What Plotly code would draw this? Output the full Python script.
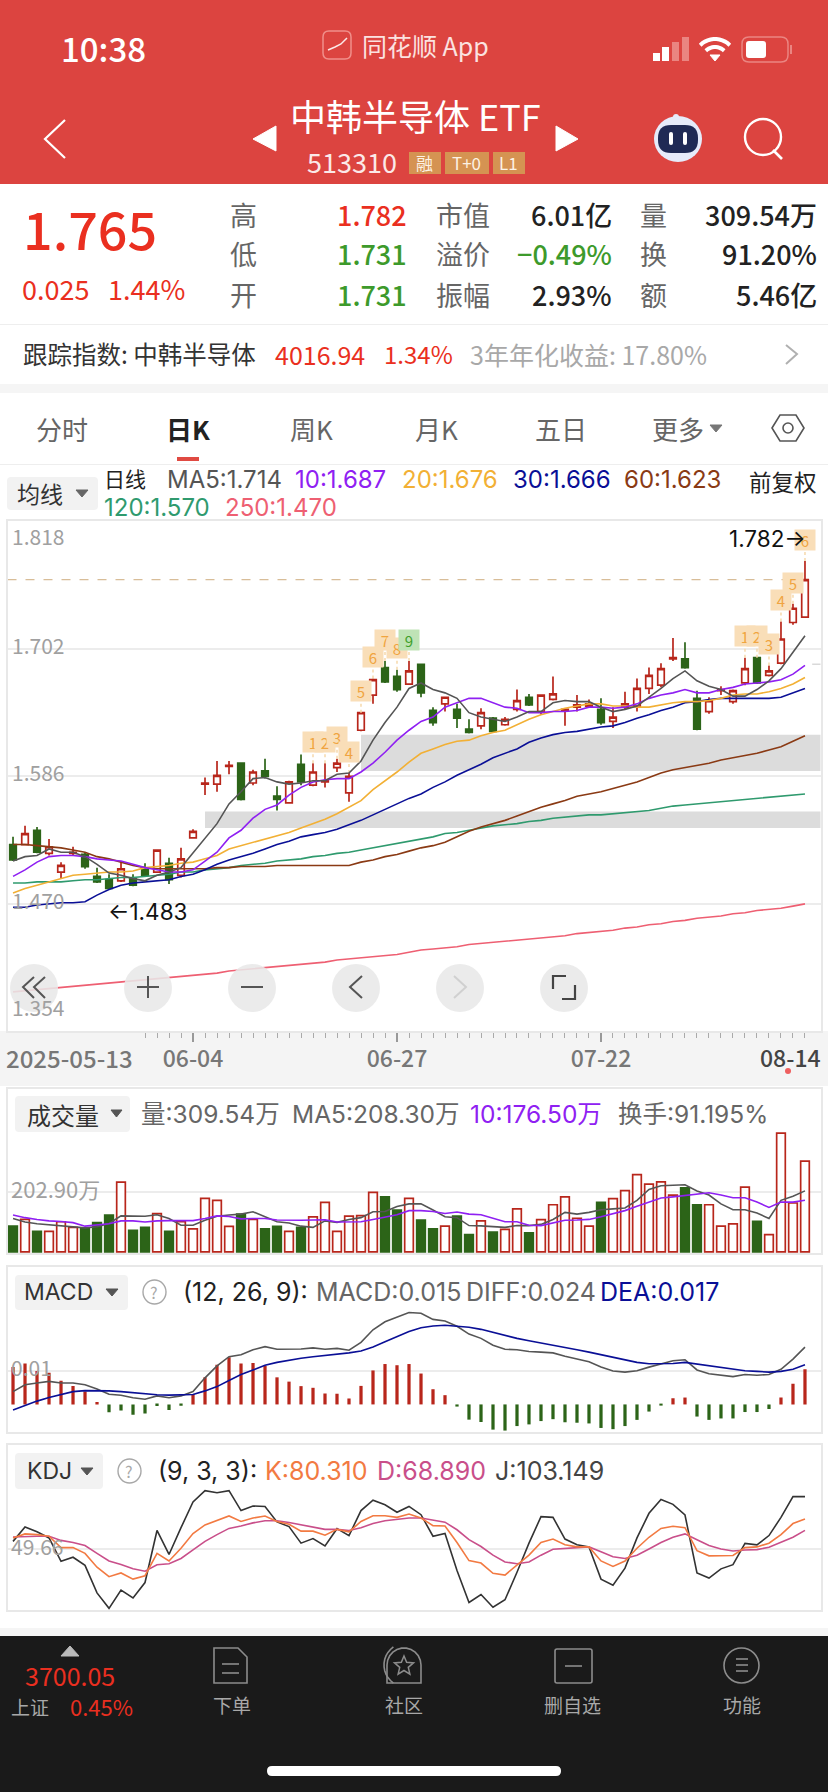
import numpy as np
import plotly.graph_objects as go

W, H = 828, 1792
FONT = "Noto Sans CJK SC, Noto Sans, sans-serif"
LATIN = "Inter, Noto Sans CJK SC, sans-serif"

# ---- daily candles
open_ = [1.524,1.524,1.537,1.516,1.499,1.516,1.515,1.495,1.492,1.491,1.493,1.501,1.499,1.507,1.496,1.530,1.579,
         1.579,1.595,1.598,1.580,1.591,1.568,1.562,1.597,1.578,1.581,1.594,1.571,1.628,1.660,1.685,1.677,1.670,
         1.688,1.646,1.652,1.647,1.629,1.632,1.639,1.633,1.647,1.658,1.645,1.656,1.646,1.649,1.650,1.647,1.636,
         1.649,1.650,1.666,1.669,1.693,1.693,1.657,1.645,1.664,1.654,1.671,1.694,1.678,1.689,1.726,1.731]
high = [1.531,1.541,1.540,1.529,1.508,1.522,1.517,1.503,1.497,1.509,1.497,1.507,1.519,1.512,1.521,1.538,1.585,
        1.600,1.600,1.598,1.592,1.602,1.577,1.582,1.606,1.598,1.598,1.602,1.589,1.644,1.675,1.691,1.683,1.691,
        1.688,1.649,1.658,1.652,1.638,1.648,1.640,1.640,1.665,1.661,1.660,1.677,1.647,1.660,1.656,1.657,1.649,
        1.663,1.675,1.685,1.689,1.712,1.708,1.664,1.658,1.668,1.665,1.694,1.694,1.687,1.727,1.743,1.782]
low = [1.509,1.524,1.516,1.514,1.493,1.514,1.502,1.489,1.483,1.490,1.486,1.495,1.499,1.488,1.494,1.530,1.569,
       1.572,1.588,1.564,1.578,1.584,1.555,1.562,1.578,1.577,1.576,1.590,1.563,1.627,1.652,1.671,1.663,1.670,
       1.658,1.632,1.645,1.630,1.625,1.629,1.626,1.632,1.645,1.650,1.642,1.655,1.632,1.645,1.649,1.633,1.630,
       1.647,1.645,1.661,1.667,1.691,1.684,1.628,1.643,1.660,1.652,1.669,1.670,1.677,1.688,1.724,1.731]
close = [1.510,1.534,1.517,1.522,1.505,1.517,1.504,1.490,1.484,1.502,1.487,1.496,1.519,1.492,1.511,1.536,1.580,
         1.587,1.596,1.565,1.590,1.586,1.565,1.581,1.581,1.590,1.582,1.598,1.586,1.644,1.674,1.672,1.665,1.682,
         1.662,1.635,1.658,1.639,1.626,1.644,1.627,1.638,1.655,1.651,1.660,1.661,1.647,1.651,1.652,1.635,1.640,
         1.652,1.666,1.678,1.684,1.694,1.685,1.629,1.655,1.665,1.664,1.684,1.671,1.682,1.711,1.739,1.765]

ma5 = [1.509,1.513,1.514,1.520,1.517,1.517,1.513,1.506,1.498,1.496,1.493,1.491,1.496,1.499,1.503,1.516,1.530,
       1.543,1.561,1.572,1.584,1.585,1.581,1.579,1.580,1.582,1.582,1.588,1.589,1.600,1.619,1.635,1.649,1.666,
       1.671,1.665,1.662,1.657,1.644,1.640,1.638,1.636,1.640,1.645,1.645,1.653,1.655,1.654,1.654,1.649,1.645,
       1.647,1.650,1.658,1.666,1.675,1.682,1.673,1.668,1.665,1.659,1.659,1.665,1.673,1.684,1.699,1.714]
ma10 = [1.495,1.501,1.508,1.513,1.514,1.514,1.513,1.511,1.510,1.509,1.506,1.503,1.501,1.499,1.499,1.501,1.509,
        1.517,1.530,1.537,1.548,1.556,1.560,1.569,1.576,1.581,1.583,1.584,1.584,1.590,1.598,1.608,1.619,1.628,
        1.636,1.640,1.649,1.653,1.657,1.657,1.653,1.649,1.648,1.644,1.644,1.645,1.645,1.646,1.649,1.649,1.648,
        1.649,1.652,1.657,1.660,1.662,1.665,1.662,1.662,1.665,1.667,1.670,1.671,1.672,1.674,1.679,1.687]
ma20 = [1.480,1.484,1.487,1.490,1.493,1.496,1.497,1.498,1.499,1.499,1.500,1.503,1.504,1.505,1.507,1.508,1.511,
        1.514,1.520,1.523,1.526,1.529,1.532,1.535,1.539,1.543,1.547,1.552,1.558,1.564,1.574,1.582,1.590,1.599,
        1.607,1.611,1.615,1.618,1.619,1.623,1.626,1.628,1.633,1.638,1.642,1.645,1.648,1.650,1.652,1.652,1.650,
        1.650,1.649,1.649,1.651,1.653,1.654,1.654,1.655,1.657,1.660,1.661,1.661,1.663,1.666,1.670,1.676]
ma30 = [1.467,1.467,1.469,1.470,1.471,1.471,1.472,1.478,1.483,1.487,1.489,1.490,1.491,1.492,1.495,1.497,1.501,
        1.506,1.510,1.513,1.516,1.520,1.524,1.527,1.531,1.533,1.535,1.538,1.542,1.546,1.551,1.556,1.561,1.566,
        1.570,1.576,1.581,1.587,1.592,1.597,1.603,1.607,1.611,1.617,1.621,1.624,1.626,1.627,1.629,1.631,1.632,
        1.635,1.639,1.642,1.646,1.649,1.653,1.654,1.656,1.657,1.657,1.657,1.657,1.657,1.658,1.662,1.666]
ma60 = [1.524,1.524,1.523,1.522,1.521,1.519,1.517,1.513,1.511,1.508,1.505,1.503,1.502,1.502,1.502,1.502,1.502,
        1.503,1.503,1.504,1.504,1.504,1.505,1.505,1.505,1.505,1.505,1.505,1.505,1.508,1.510,1.513,1.515,1.518,
        1.521,1.523,1.526,1.531,1.536,1.540,1.543,1.546,1.550,1.554,1.558,1.561,1.564,1.568,1.570,1.572,1.575,
        1.578,1.581,1.585,1.589,1.592,1.594,1.596,1.598,1.601,1.603,1.605,1.607,1.610,1.613,1.618,1.623]
ma120 = [1.489,1.489,1.490,1.490,1.490,1.491,1.492,1.492,1.493,1.494,1.494,1.495,1.496,1.497,1.499,1.499,1.501,
         1.502,1.503,1.505,1.506,1.507,1.509,1.510,1.511,1.513,1.514,1.516,1.517,1.519,1.521,1.523,1.525,1.527,
         1.529,1.531,1.534,1.535,1.537,1.539,1.541,1.542,1.543,1.545,1.546,1.548,1.549,1.550,1.551,1.551,1.552,
         1.553,1.554,1.555,1.557,1.559,1.560,1.561,1.562,1.563,1.564,1.565,1.566,1.567,1.568,1.569,1.570]
ma250 = [1.390,1.391,1.392,1.393,1.394,1.395,1.396,1.397,1.398,1.399,1.400,1.401,1.402,1.403,1.404,1.405,1.406,
         1.407,1.409,1.410,1.411,1.412,1.413,1.414,1.415,1.416,1.417,1.419,1.420,1.421,1.422,1.423,1.424,1.426,
         1.428,1.429,1.430,1.431,1.433,1.434,1.435,1.436,1.437,1.438,1.439,1.440,1.441,1.443,1.444,1.445,1.446,
         1.448,1.449,1.451,1.452,1.454,1.455,1.457,1.458,1.459,1.461,1.462,1.464,1.465,1.466,1.468,1.470]

# ---- volume, in 万
volume = [88,111,70,70,103,84,82,100,126,238,74,84,131,70,103,79,183,176,87,129,111,79,87,70,84,120,169,70,122,124,
          203,188,143,183,109,79,88,122,59,106,68,77,147,65,110,161,188,115,88,169,182,209,264,231,239,194,219,161,
          161,88,96,221,104,59,405,167,309.54]
vol_ma5 = [114,102,96,93,89,87,82,86,97,123,123,122,127,114,91,91,108,122,126,129,137,121,103,99,88,84,106,101,111,
           117,137,138,155,164,164,143,120,117,90,89,86,84,90,90,94,111,135,129,135,144,147,150,176,213,226,228,229,
           208,194,164,144,144,133,114,176,190,208.3]
vol_ma10 = [126,117,111,106,104,100,88,91,96,106,106,102,106,107,107,107,114,123,121,113,114,114,109,108,108,109,110,
            102,103,103,111,120,127,141,141,138,131,136,129,127,114,103,103,91,90,100,108,109,111,120,131,141,156,170,
            184,188,192,197,202,194,185,185,170,152,170,170,176.5]

# ---- MACD
macd = [.0158,.0172,.0141,.0133,.0100,.0078,.0054,.0010,-.0033,-.0026,-.0043,-.0038,-.0007,-.0023,-.0006,.0043,.0114,
        .0167,.0199,.0172,.0174,.0162,.0114,.0096,.0077,.0070,.0046,.0045,.0025,.0078,.0143,.0170,.0165,.0170,
        .0130,.0064,.0039,-.0009,-.0064,-.0074,-.0106,-.0110,-.0091,-.0084,-.0070,-.0062,-.0075,-.0077,-.0080,-.0099,
        -.0104,-.0091,-.0065,-.0030,-.0004,.0026,.0029,-.0051,-.0065,-.0059,-.0059,-.0032,-.0032,-.0019,.0029,.0087,.0148]
diff = [.0054,.0083,.0090,.0097,.0090,.0090,.0083,.0065,.0043,.0039,.0028,.0022,.0036,.0028,.0036,.0054,.0112,
        .0162,.0201,.0209,.0230,.0243,.0232,.0233,.0233,.0238,.0232,.0236,.0228,.0261,.0314,.0348,.0368,.0387,
        .0384,.0358,.0351,.0329,.0296,.0278,.0249,.0232,.0230,.0223,.0220,.0217,.0203,.0191,.0180,.0158,.0141,
        .0136,.0142,.0157,.0170,.0184,.0188,.0145,.0129,.0123,.0117,.0126,.0123,.0126,.0148,.0191,.0241]
dea = [-.0023,-.0004,.0014,.0029,.0043,.0054,.0058,.0058,.0057,.0054,.0049,.0043,.0041,.0039,.0039,.0042,.0057,
       .0075,.0101,.0126,.0145,.0165,.0177,.0187,.0194,.0201,.0206,.0210,.0217,.0225,.0242,.0264,.0286,.0307,
       .0323,.0330,.0333,.0330,.0325,.0316,.0303,.0290,.0278,.0268,.0259,.0251,.0241,.0230,.0220,.0209,.0197,
       .0187,.0177,.0171,.0170,.0172,.0177,.0170,.0162,.0155,.0148,.0142,.0139,.0136,.0139,.0148,.0167]

# ---- KDJ
k_line = [61.2,65.3,64.6,62.9,51.4,51.4,45.5,31.5,21.8,25.6,19.4,22.8,45.5,37.8,50.7,65.7,74.4,78.6,83.5,77.9,81.4,
          83.5,77.9,75.1,68.1,68.1,64.0,69.9,67.4,77.9,83.8,83.8,82.1,85.5,81.4,73.7,73.4,56.6,38.2,35.7,25.3,23.5,
          33.3,43.7,56.6,60.1,54.2,52.1,52.1,37.8,32.2,37.8,50.7,61.9,70.9,73.0,71.6,48.3,43.0,43.4,43.4,51.4,52.1,
          55.9,64.6,75.8,80.31]
d_line = [62.2,62.9,62.9,62.9,58.7,56.6,53.5,45.5,37.8,34.3,29.8,27.4,34.0,35.0,40.3,49.0,57.7,64.6,70.9,73.4,76.5,
          78.6,78.6,76.9,74.4,72.3,69.9,69.9,68.8,71.6,75.8,78.6,80.3,81.4,81.4,79.3,77.2,69.5,59.4,52.5,43.7,36.8,
          35.0,36.8,43.7,49.7,50.7,51.4,52.1,47.2,42.0,40.3,43.7,50.0,56.6,61.9,65.3,59.4,53.5,50.0,47.9,49.0,49.3,
          51.8,56.6,61.9,68.89]
j_line = [57.7,72.3,67.4,61.2,37.5,41.6,33.3,5.4,-10.3,8.2,0.2,15.9,68.8,44.4,71.6,97.7,109.2,107.1,109.2,89.0,93.6,
          93.2,77.5,72.7,55.9,60.5,53.1,70.6,63.6,89.0,99.5,94.9,87.3,93.2,84.8,62.9,65.7,28.1,-4.3,3.7,-9.2,-1.6,
          26.3,55.9,82.8,82.1,60.1,54.2,52.1,19.4,13.1,30.5,61.2,86.2,100.2,95.3,84.5,25.6,20.4,29.8,34.0,55.6,54.2,
          63.6,82.1,103.149,103.149]

# ---- counting tags above the candles and the axis labels
td_index = [25,26,27,28,29,30,31,32,33,61,62,63,64,65,66]
td_text = ["1","2","3","4","5","6","7","8","9","1","2","3","4","5","6"]
date_ticks = [15, 32, 49, 66]
date_labels = ["06-04", "06-27", "07-22", ""]
price_labels = ["1.818", "1.702", "1.586", "1.470", "1.354"]
price_grid = [1.702, 1.586, 1.470]

xs = list(range(len(close)))
for arr in [open_, high, low, ma5, ma10, ma20, ma30, ma60, ma120, ma250, volume, vol_ma5, vol_ma10,
            macd, diff, dea, k_line, d_line, j_line]:
    assert len(arr) == len(xs), len(arr)

RED = "#b8261b"
GREEN = "#2c6418"
up = [c >= o for o, c in zip(open_, close)]
XR = [-0.46, 67.31]


def fx(px):
    return px / W


def fy(py):
    return 1 - py / H


def dom(top, bottom):
    return [fy(bottom), fy(top)]


shapes = []
notes = []


def text(x, y, s, size, color, anchor="center", weight=None, family=FONT):
    # annotation boxes carry a little padding, pull the text back to the edge it is anchored on
    if anchor == "left":
        x -= 3
    elif anchor == "right":
        x += 3
    f = dict(family=family, size=size, color=color)
    if weight:
        f["weight"] = weight
    notes.append(dict(xref="paper", yref="paper", x=fx(x), y=fy(y), text=s, showarrow=False,
                      xanchor=anchor, yanchor="middle", font=f))


def box(x0, y0, x1, y1, fill, line=None, lw=1, layer="above"):
    shapes.append(dict(type="rect", xref="paper", yref="paper", x0=fx(x0), x1=fx(x1), y0=fy(y0), y1=fy(y1),
                       fillcolor=fill, line=dict(color=line or fill, width=lw if line else 0), layer=layer))


def rbox(x0, y0, x1, y1, r, fill="rgba(0,0,0,0)", line=None, lw=1):
    def p(x, y):
        return f"{fx(x):.5f},{fy(y):.5f}"
    d = (f"M {p(x0+r,y0)} L {p(x1-r,y0)} Q {p(x1,y0)} {p(x1,y0+r)} L {p(x1,y1-r)} Q {p(x1,y1)} {p(x1-r,y1)} "
         f"L {p(x0+r,y1)} Q {p(x0,y1)} {p(x0,y1-r)} L {p(x0,y0+r)} Q {p(x0,y0)} {p(x0+r,y0)} Z")
    shapes.append(dict(type="path", xref="paper", yref="paper", path=d, fillcolor=fill,
                       line=dict(color=line or fill, width=lw if line else 0)))


def poly(pts, color, lw=2, fill=None, closed=False):
    d = "M " + " L ".join(f"{fx(x):.5f},{fy(y):.5f}" for x, y in pts) + (" Z" if closed else "")
    shapes.append(dict(type="path", xref="paper", yref="paper", path=d, fillcolor=fill or "rgba(0,0,0,0)",
                       line=dict(color=color, width=lw)))


def oval(x0, y0, x1, y1, fill="rgba(0,0,0,0)", line=None, lw=1):
    shapes.append(dict(type="circle", xref="paper", yref="paper", x0=fx(x0), x1=fx(x1), y0=fy(y0), y1=fy(y1),
                       fillcolor=fill, line=dict(color=line or fill, width=lw if line else 0)))


def arc(cx, cy, r, a0, a1):
    return [(cx + r * np.cos(np.radians(a)), cy - r * np.sin(np.radians(a))) for a in np.linspace(a0, a1, 12)]


fig = go.Figure()

# price pane
fig.add_trace(go.Candlestick(x=xs, open=open_, high=high, low=low, close=close, xaxis="x", yaxis="y",
                             increasing=dict(line=dict(color=RED, width=1.7), fillcolor="white"),
                             decreasing=dict(line=dict(color=GREEN, width=1.7), fillcolor=GREEN),
                             whiskerwidth=0, showlegend=False))
td_x, td_y = [], []
for i in td_index:
    td_x += [i, i, None]
    td_y += [high[i], high[i] + 0.0135, None]
fig.add_trace(go.Scatter(x=td_x, y=td_y, mode="lines", line=dict(color="#f6d9ab", width=1.5, dash="dot"),
                         xaxis="x", yaxis="y", showlegend=False))
ma_lines = [(ma250, "#ee5f72"), (ma120, "#2f9a6e"), (ma60, "#8a3a14"), (ma30, "#0a0f96"),
            (ma20, "#f2b035"), (ma10, "#8f20f2"), (ma5, "#555555")]
for series, color in ma_lines:
    fig.add_trace(go.Scatter(x=xs, y=series, mode="lines", line=dict(color=color, width=1.6),
                             xaxis="x", yaxis="y", showlegend=False))

# volume pane
fig.add_trace(go.Bar(x=xs, y=volume, width=0.72, xaxis="x2", yaxis="y2", showlegend=False,
                     marker=dict(color=["white" if u else GREEN for u in up],
                                 line=dict(color=[RED if u else GREEN for u in up], width=1.7))))
for series, color in [(vol_ma5, "#555555"), (vol_ma10, "#8f20f2")]:
    fig.add_trace(go.Scatter(x=xs, y=series, mode="lines", line=dict(color=color, width=1.6),
                             xaxis="x2", yaxis="y2", showlegend=False))

# MACD pane
fig.add_trace(go.Bar(x=xs, y=macd, width=0.27, xaxis="x3", yaxis="y3", showlegend=False,
                     marker=dict(color=[RED if v >= 0 else GREEN for v in macd], line=dict(width=0))))
for series, color in [(diff, "#555555"), (dea, "#0a0f96")]:
    fig.add_trace(go.Scatter(x=xs, y=series, mode="lines", line=dict(color=color, width=1.6),
                             xaxis="x3", yaxis="y3", showlegend=False))

# KDJ pane
for series, color in [(j_line, "#333333"), (d_line, "#c94f8a"), (k_line, "#f27a42")]:
    fig.add_trace(go.Scatter(x=xs, y=series, mode="lines", line=dict(color=color, width=1.6),
                             xaxis="x4", yaxis="y4", showlegend=False))

# ---- things tied to the price axis
for x0, y0, y1 in [(29, 1.591, 1.624), (16, 1.539, 1.554)]:
    shapes.append(dict(type="rect", xref="x", yref="y", x0=x0, x1=XR[1], y0=y0, y1=y1,
                       fillcolor="#dcdcdc", line=dict(width=0), layer="below"))
shapes.append(dict(type="line", xref="x", yref="y", x0=XR[0], x1=67.0, y0=close[-1], y1=close[-1],
                   line=dict(color="#d8bd98", width=1.2, dash="dash"), layer="below"))
shapes.append(dict(type="line", xref="x", yref="y", x0=66.6, x1=XR[1], y0=1.688, y1=1.688,
                   line=dict(color="#d9d9d9", width=1.5)))
for i, t in zip(td_index, td_text):
    nine = t == "9"
    notes.append(dict(xref="x", yref="y", x=i, y=high[i] + 0.0194, text=t, showarrow=False, width=20, height=20,
                      bgcolor="#bfe3b6" if nine else "#f9deb8", borderpad=0,
                      font=dict(family=FONT, size=15, color="#3fa02b" if nine else "#f0a440")))
notes.append(dict(xref="x", yref="y", x=8, y=low[8], text="←1.483", showarrow=False, xanchor="left", yanchor="middle",
                  xshift=-3, yshift=-22, font=dict(family=LATIN, size=22.5, color="#111111")))
notes.append(dict(xref="x", yref="y", x=66, y=high[66], text="1.782→", showarrow=False, xanchor="right",
                  yanchor="middle", yshift=22, xshift=3, font=dict(family=LATIN, size=22.5, color="#111111")))

# ---- page chrome
box(0, 0, W, 184, "#dc4440", layer="below")
box(0, 384, W, 393, "#f5f5f5", layer="below")
box(0, 1031, W, 1086, "#f4f4f4", layer="below")
box(0, 1628, W, 1636, "#f5f5f5", layer="below")
box(0, 1636, W, H, "#1a1a1a", layer="below")
box(0, 324, W, 325, "#eeeeee")
box(0, 464, W, 465, "#eeeeee")

text(103, 48, "10:38", 33, "white", weight=500)
rbox(323, 31, 351, 59, 6, fill="#dc4440", line="#f08f8a", lw=1.5)
poly([(328, 50), (335, 47), (341, 44), (347, 38)], "#fbe9e8", 1.5)
text(426, 45, "同花顺 App", 25, "#fbe2e0")
for x0, y0, col in [(653, 53, "white"), (662, 47, "white"), (672, 42, "#ea8581"), (682, 37, "#ea8581")]:
    box(x0, y0, x0 + 7, 61, col)
for r in [21, 13]:
    poly(arc(715, 60, r, 45, 135), "white", 4)
poly([(710, 55), (715, 61), (720, 55)], "white", 1, fill="white", closed=True)
rbox(742, 37, 788, 62, 7, line="#ea8581", lw=1.5)
rbox(746, 41, 766, 58, 3, fill="white")
box(790, 45, 792, 54, "#ea8581")

poly([(65, 120), (45, 139), (65, 158)], "white", 2.2)
poly([(276, 126), (253, 139), (276, 151)], "white", 1, fill="white", closed=True)
poly([(556, 126), (578, 139), (556, 151)], "white", 1, fill="white", closed=True)
text(415, 115, "中韩半导体 ETF", 36, "white")
text(352, 161, "513310", 27, "#fbe9e8")
for x0, x1, t in [(409, 441, "融"), (445, 489, "T+0"), (493, 525, "L1")]:
    box(x0, 152, x1, 174, "#d59352")
    text((x0 + x1) / 2, 163, t, 17, "#fdf2e4")
oval(654, 116, 702, 162, fill="#e6ebfa")
rbox(658, 125, 698, 153, 13, fill="#1f2a55")
rbox(669, 132, 673, 145, 2, fill="white")
rbox(683, 132, 687, 145, 2, fill="white")
oval(673, 114, 679, 120, fill="#e6ebfa")
oval(745, 119, 781, 155, line="white", lw=2.4)
poly([(773, 150), (782, 159)], "white", 2.6)

text(90, 228, "1.765", 52, "#ea2f20", weight=500)
text(55, 289, "0.025", 27, "#ea2f20")
text(146, 289, "1.44%", 27, "#ea2f20")
rows = [214, 254, 294]
val_red, val_green = "#ea2f20", "#3d9a2b"
for y, a, v, vc, b, v2, v2c, c, v3 in zip(
        rows, ["高", "低", "开"], ["1.782", "1.731", "1.731"], [val_red, val_green, val_green],
        ["市值", "溢价", "振幅"], ["6.01亿", "−0.49%", "2.93%"], ["#222222", val_green, "#222222"],
        ["量", "换", "额"], ["309.54万", "91.20%", "5.46亿"]):
    text(244, y, a, 27, "#666666")
    text(406, y, v, 27, vc, anchor="right", weight=500)
    text(463, y, b, 27, "#666666")
    text(611, y, v2, 27, v2c, anchor="right", weight=500)
    text(653, y, c, 27, "#666666")
    text(816, y, v3, 27, "#222222", anchor="right", weight=500)

text(24, 354, "跟踪指数: 中韩半导体", 24.5, "#333333", anchor="left")
text(276, 354, "4016.94", 25, "#ea2f20", anchor="left")
text(385, 354, "1.34%", 24, "#ea2f20", anchor="left")
text(471, 354, "3年年化收益: 17.80%", 25, "#a8a8a8", anchor="left")
poly([(786, 345), (797, 354), (786, 364)], "#b0b0b0", 2)

for x, t, col, wt in [(62, "分时", "#666666", None), (188, "日K", "#222222", 700), (311, "周K", "#666666", None),
                      (436, "月K", "#666666", None), (561, "五日", "#666666", None), (678, "更多", "#666666", None)]:
    text(x, 428, t, 26, col, weight=wt)
poly([(710, 425), (722, 425), (716, 432)], "#777777", 1, fill="#777777", closed=True)
box(177, 457, 199, 461, "#e04a42")
poly([(772, 428), (780, 415), (796, 415), (804, 428), (796, 441), (780, 441)], "#555555", 1.6, closed=True)
oval(783, 423, 793, 433, line="#555555", lw=1.6)

# indicator row above the price pane
rbox(7, 477, 98, 510, 4, fill="#f2f2f2")
text(40, 493, "均线", 23, "#333333")
poly([(76, 490), (88, 490), (82, 497)], "#666666", 1, fill="#666666", closed=True)
text(105, 478, "日线", 21, "#222222", anchor="left")
for x, t, c in [(168, "MA5:1.714", "#555555"), (296, "10:1.687", "#8f20f2"), (403, "20:1.676", "#f2b035"),
                (514, "30:1.666", "#0a0f96"), (625, "60:1.623", "#8a3a14")]:
    text(x, 479, t, 24, c, anchor="left", family=LATIN)
text(783, 481, "前复权", 22.5, "#222222")
text(105, 508, "120:1.570", 24, "#2f9a6e", anchor="left", family=LATIN)
text(226, 508, "250:1.470", 24, "#ee5f72", anchor="left", family=LATIN)

# price labels, inside the pane
for y, t in zip([536, 645, 772, 900, 1007], price_labels):
    text(13, y, t, 21, "#a0a0a0", anchor="left")
text(7, 1057, "2025-05-13", 24, "#777777", anchor="left", weight=500)
text(820, 1057, "08-14", 23, "#444444", anchor="right", weight=500)
oval(785, 1068, 791, 1074, fill="#ee5f5f")

# chart buttons
for cx in [34, 148, 252, 356, 460, 564]:
    oval(cx - 24, 964, cx + 24, 1012, fill="rgba(232,232,232,0.88)")
poly([(34, 977), (23, 987), (34, 998)], "#555555", 2)
poly([(45, 977), (34, 987), (45, 998)], "#555555", 2)
poly([(137, 987), (159, 987)], "#555555", 2)
poly([(148, 976), (148, 998)], "#555555", 2)
poly([(241, 987), (263, 987)], "#555555", 2)
poly([(362, 976), (350, 987), (362, 998)], "#555555", 2)
poly([(454, 976), (466, 987), (454, 998)], "#d0d0d0", 2)
poly([(553, 989), (553, 976), (566, 976)], "#444444", 2.2)
poly([(575, 985), (575, 999), (562, 999)], "#444444", 2.2)

# volume header
rbox(15, 1096, 130, 1132, 4, fill="#f2f2f2")
text(63, 1114, "成交量", 24, "#333333")
poly([(111, 1110), (122, 1110), (116.5, 1117)], "#555555", 1, fill="#555555", closed=True)
for x, t, c in [(142, "量:309.54万", "#666666"), (293, "MA5:208.30万", "#666666"),
                (471, "10:176.50万", "#8f20f2"), (619, "换手:91.195%", "#666666")]:
    text(x, 1114, t, 24.5, c, anchor="left", family=LATIN)
text(12, 1188, "202.90万", 22, "#a0a0a0", anchor="left")

# MACD header
rbox(15, 1275, 128, 1310, 4, fill="#f2f2f2")
text(58, 1292, "MACD", 23, "#333333", family=LATIN)
poly([(106, 1289), (118, 1289), (112, 1296)], "#555555", 1, fill="#555555", closed=True)
oval(143, 1280, 166, 1304, line="#a8a8a8", lw=1.4)
text(154, 1292, "?", 16, "#a8a8a8")
text(184, 1292, "(12, 26, 9):", 25, "#222222", anchor="left", family=LATIN)
for x, t, c in [(317, "MACD:0.015", "#666666"), (467, "DIFF:0.024", "#666666"), (601, "DEA:0.017", "#0a0f96")]:
    text(x, 1292, t, 25, c, anchor="left", family=LATIN)
text(12, 1367, "0.01", 21, "#a0a0a0", anchor="left")

# KDJ header
rbox(15, 1453, 103, 1489, 4, fill="#f2f2f2")
text(49, 1471, "KDJ", 23, "#333333", family=LATIN)
poly([(81, 1468), (93, 1468), (87, 1475)], "#555555", 1, fill="#555555", closed=True)
oval(118, 1459, 141, 1483, line="#a8a8a8", lw=1.4)
text(129, 1471, "?", 16, "#a8a8a8")
text(159, 1471, "(9, 3, 3):", 25, "#222222", anchor="left", family=LATIN)
for x, t, c in [(266, "K:80.310", "#f27a42"), (378, "D:68.890", "#c94f8a"), (496, "J:103.149", "#444444")]:
    text(x, 1471, t, 25, c, anchor="left", family=LATIN)
text(12, 1546, "49.66", 21, "#a0a0a0", anchor="left")

# bottom bar
poly([(61, 1656), (79, 1656), (70, 1646)], "#bbbbbb", 1, fill="#bbbbbb", closed=True)
text(70, 1675, "3700.05", 25, "#ea2f20")
text(30, 1706, "上证", 19, "#a8a8a8")
text(101, 1706, "0.45%", 22, "#ea2f20")
for x, t in [(232, "下单"), (404, "社区"), (572, "删自选"), (742, "功能")]:
    text(x, 1704, t, 19, "#a8a8a8")
poly([(214, 1683), (214, 1648), (238, 1648), (247, 1657), (247, 1683)], "#8c8c8c", 1.6, closed=True)
poly([(222, 1664), (239, 1664)], "#8c8c8c", 1.6)
poly([(222, 1673), (239, 1673)], "#8c8c8c", 1.6)
poly(arc(404, 1665, 17, 0, 180) + [(387, 1683), (421, 1683)], "#8c8c8c", 1.6, closed=True)
poly(arc(406, 1665, 22, 125, 235), "#8c8c8c", 1.6)
star = [(404 + (10 if j % 2 == 0 else 4.5) * np.sin(j * np.pi / 5),
         1666 - (10 if j % 2 == 0 else 4.5) * np.cos(j * np.pi / 5)) for j in range(10)]
poly(star, "#8c8c8c", 1.5, closed=True)
rbox(555, 1649, 592, 1683, 2, line="#8c8c8c", lw=1.6)
poly([(565, 1666), (582, 1666)], "#8c8c8c", 1.6)
oval(724, 1648, 759, 1683, line="#8c8c8c", lw=1.6)
for y in [1659, 1665, 1671]:
    poly([(736, y), (748, y)], "#8c8c8c", 1.6)
rbox(267, 1766, 561, 1776, 5, fill="white")

# ---- axes
pane_line = dict(showline=True, mirror=True, linecolor="#e8e8e8", linewidth=1.5)
fig.update_layout(
    width=W, height=H, margin=dict(l=0, r=0, t=0, b=0), paper_bgcolor="white", plot_bgcolor="white",
    font=dict(family=FONT), showlegend=False, shapes=shapes, annotations=notes, barmode="overlay",
    boxgap=0.22, hovermode=False,
    xaxis=dict(domain=[fx(7.5), fx(820.7)], range=XR, anchor="y", rangeslider=dict(visible=False), showgrid=False,
               zeroline=False, tickvals=date_ticks, ticktext=date_labels, ticks="outside", ticklen=9, tickwidth=2,
               tickcolor="#999999", tickfont=dict(size=23, color="#777777", family=FONT, weight=500),
               ticklabelstandoff=-3, minor=dict(tickvals=list(range(11, 67)), ticks="outside", ticklen=5,
                                                tickcolor="#aaaaaa", tickwidth=1), **pane_line),
    yaxis=dict(domain=dom(521.4, 1031.4), range=[1.354, 1.818], anchor="x", tickvals=price_grid, showticklabels=False,
               gridcolor="#ececec", gridwidth=1.5, zeroline=False, **pane_line),
    xaxis2=dict(domain=[fx(7.5), fx(820.7)], range=XR, anchor="y2", showticklabels=False, showgrid=False,
                zeroline=False, **pane_line),
    yaxis2=dict(domain=dom(1088.6, 1253), range=[-3.5, 557], anchor="x2", tickvals=[202.9], showticklabels=False,
                gridcolor="#ececec", gridwidth=1.5, zeroline=False, **pane_line),
    xaxis3=dict(domain=[fx(7.5), fx(820.7)], range=XR, anchor="y3", showticklabels=False, showgrid=False,
                zeroline=False, **pane_line),
    yaxis3=dict(domain=dom(1266.6, 1432), range=[-0.0116, 0.058], anchor="x3", tickvals=[0.0139],
                showticklabels=False, gridcolor="#ececec", gridwidth=1.5, zeroline=False, **pane_line),
    xaxis4=dict(domain=[fx(7.5), fx(820.7)], range=XR, anchor="y4", showticklabels=False, showgrid=False,
                zeroline=False, **pane_line),
    yaxis4=dict(domain=dom(1445, 1610), range=[-12, 155.6], anchor="x4", tickvals=[49.66], showticklabels=False,
                gridcolor="#ececec", gridwidth=1.5, zeroline=False, **pane_line),
)

fig.write_html("out.html", config=dict(displayModeBar=False),
               post_script="document.body.style.margin='0';")
